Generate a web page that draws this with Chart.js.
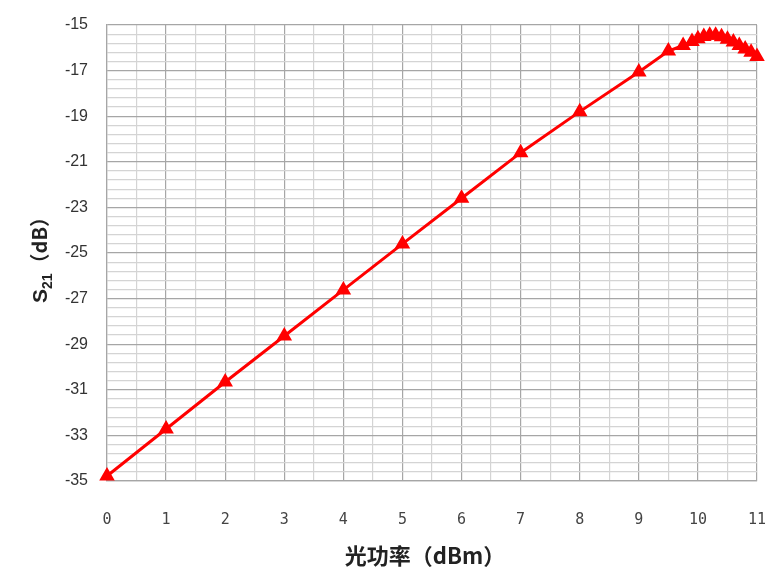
<!DOCTYPE html>
<html><head><meta charset="utf-8">
<script src="https://cdn.jsdelivr.net/npm/chart.js@4.4.0/dist/chart.umd.min.js"></script>
<style>html,body{margin:0;padding:0;background:#fff}#wrap{width:781px;height:587px}</style>
</head><body><div id="wrap"><canvas id="c" width="781" height="587"></canvas></div>
<script>
const opticalPower = [0,1,2,3,4,5,6,7,8,9,9.5,9.75,9.9,10.0,10.1,10.2,10.3,10.4,10.5,10.6,10.7,10.8,10.9,11.0];
const s21 = [-34.78,-32.72,-30.66,-28.64,-26.62,-24.6,-22.6,-20.6,-18.8,-17.06,-16.14,-15.9,-15.72,-15.6,-15.5,-15.45,-15.45,-15.52,-15.62,-15.75,-15.9,-16.05,-16.2,-16.38];
const xTickLabels = ['0','1','2','3','4','5','6','7','8','9','10','11'];
const yTickLabels = ['-35','-33','-31','-29','-27','-25','-23','-21','-19','-17','-15'];
const xTitle = '光功率（dBm）';
const yTitleMain = 'S';
const yTitleSub = '21';
const yTitleRest = '（dB）';

const points = opticalPower.map((x,i)=>({x:x,y:s21[i]}));

const titlePlugin = {
  id:'titles',
  afterDraw(chart){
    const ctx = chart.ctx;
    ctx.save();
    ctx.fillStyle = '#222';
    ctx.font = '600 22px "Noto Sans CJK SC"';
    ctx.textAlign = 'center';
    ctx.textBaseline = 'middle';
    ctx.fillText(xTitle, 425, 556);
    ctx.translate(40, 255);
    ctx.rotate(-Math.PI/2);
    const f1 = 'bold 21px "Liberation Sans"';
    const f2 = 'bold 14px "Liberation Sans"';
    const f3 = 'bold 20px "Noto Sans CJK SC"';
    ctx.font = f1; const w1 = ctx.measureText(yTitleMain).width;
    ctx.font = f2; const w2 = ctx.measureText(yTitleSub).width;
    ctx.font = f3; const w3 = ctx.measureText(yTitleRest).width;
    let x = -(w1+w2+w3)/2;
    ctx.textAlign = 'left';
    ctx.textBaseline = 'alphabetic';
    ctx.font = f1; ctx.fillText(yTitleMain, x, 7); x += w1;
    ctx.font = f2; ctx.fillText(yTitleSub, x, 12); x += w2;
    ctx.font = f3; ctx.fillText(yTitleRest, x, 7);
    ctx.restore();
  }
};

new Chart(document.getElementById('c'), {
  type:'scatter',
  data:{datasets:[{
    data:points,
    showLine:true,
    borderColor:'#ff0000',
    backgroundColor:'#ff0000',
    borderWidth:3,
    pointStyle:'triangle',
    pointRadius:6,
    pointHoverRadius:6,
    tension:0,
    clip:false
  }]},
  options:{
    responsive:false,
    animation:false,
    layout:{padding:{top:25,right:24,left:0,bottom:0}},
    plugins:{legend:{display:false},tooltip:{enabled:false}},
    scales:{
      x:{
        type:'linear',min:0,max:11,
        afterBuildTicks(s){const t=[];for(let i=0;i<=22;i++)t.push({value:i*0.5});s.ticks=t;},
        afterFit(s){s.height=106;s.paddingLeft=0;s.paddingRight=0;},
        grid:{drawTicks:false,color:c=>(c.tick&&Number.isInteger(c.tick.value))?'#a6a6a6':'#d4d4d4',lineWidth:1.2},
        border:{display:true,color:'#a6a6a6',width:1.2},
        ticks:{padding:30,autoSkip:false,maxRotation:0,color:'#444',font:{family:'"DejaVu Sans Mono"',size:15},
          callback:(v)=>Number.isInteger(v)?xTickLabels[v]:''}
      },
      y:{
        type:'linear',min:-35,max:-15,
        afterBuildTicks(s){const t=[];for(let i=0;i<=50;i++)t.push({value:Math.round((-35+i*0.4)*100)/100});s.ticks=t;},
        afterFit(s){s.width=107;s.paddingTop=0;s.paddingBottom=0;},
        grid:{drawTicks:false,color:c=>{const v=c.tick?c.tick.value:0;const k=(v+35)/2;return Math.abs(k-Math.round(k))<1e-6?'#a6a6a6':'#d4d4d4';},lineWidth:1.2},
        border:{display:true,color:'#a6a6a6',width:1.2},
        ticks:{padding:19,autoSkip:false,color:'#333',font:{family:'"Liberation Sans"',size:16},
          callback:(v)=>{const k=(v+35)/2;return Math.abs(k-Math.round(k))<1e-6?yTickLabels[Math.round(k)]:'';}}
      }
    }
  },
  plugins:[titlePlugin]
});
</script></body></html>
